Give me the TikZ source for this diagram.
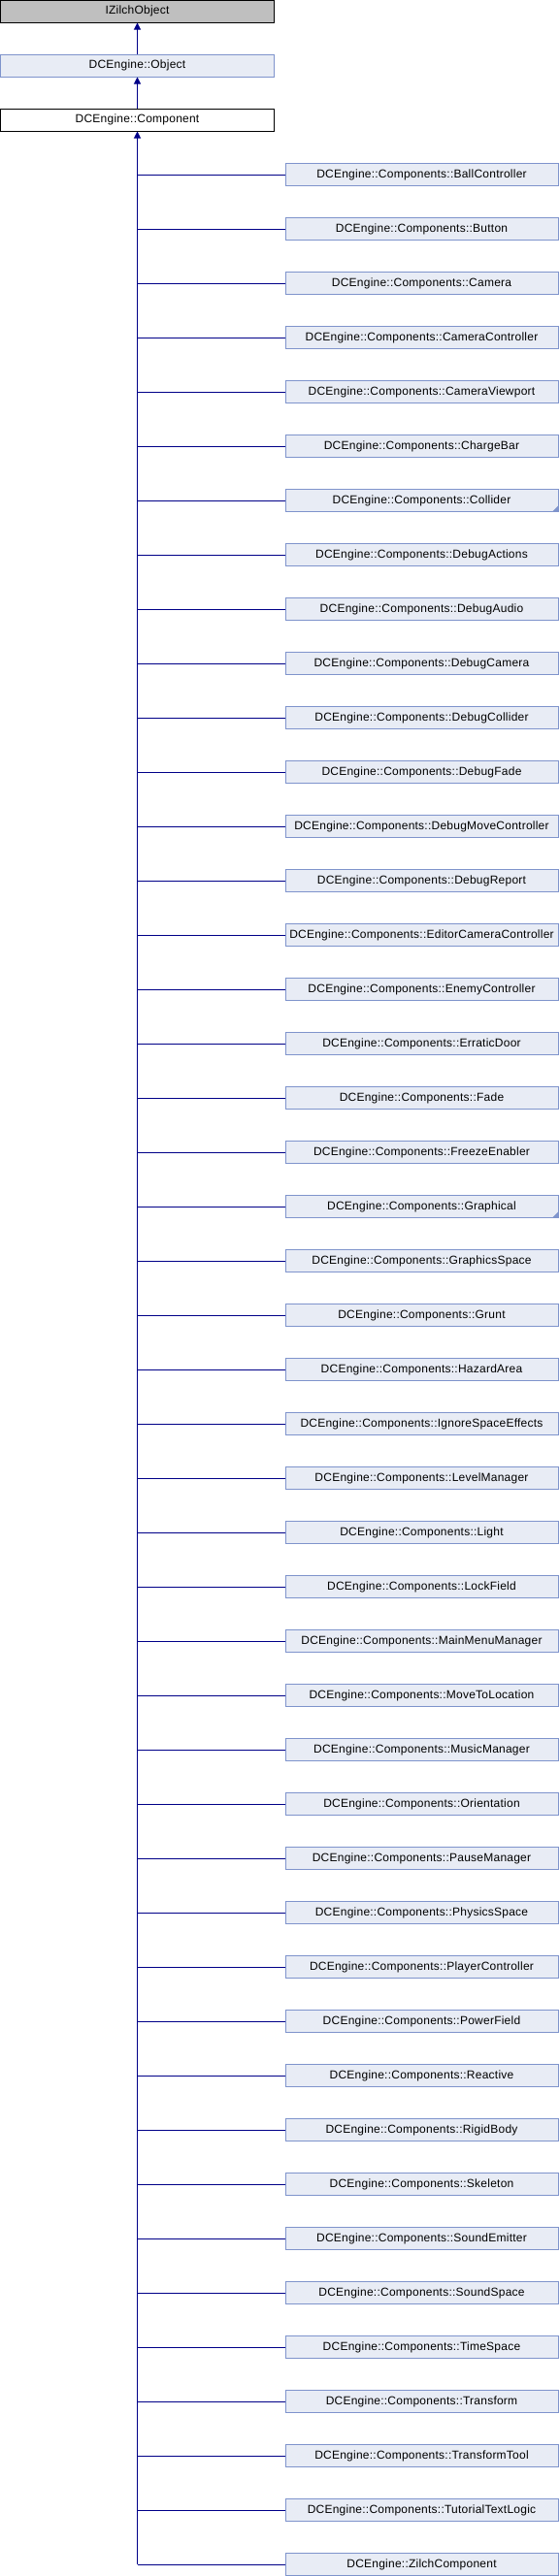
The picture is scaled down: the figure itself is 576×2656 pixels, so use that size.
\documentclass[tikz,border=0pt]{standalone}
\usepackage{fontspec}
\setmainfont{Liberation Sans}
\usetikzlibrary{arrows.meta}
\definecolor{edgecol}{HTML}{000088}
\definecolor{boxfill}{HTML}{E8ECF5}
\definecolor{boxline}{HTML}{7F94CC}
\definecolor{greyfill}{HTML}{BFBFBF}
\tikzset{
  cls/.style={rectangle, inner sep=0pt, minimum height=23pt, line width=1pt,
    font=\fontsize{12}{14}\selectfont\addfontfeature{LetterSpace=2}},
  topbox/.style={cls, minimum width=282pt},
  childbox/.style={cls, minimum width=281pt, draw=boxline, fill=boxfill},
  edge/.style={draw=edgecol, line width=1pt},
  arr/.style={edge, -{Triangle[width=7pt,length=7pt]}},
}
\begin{document}
\begin{tikzpicture}[x=1pt,y=-1pt]
\useasboundingbox (0,0) rectangle (576,2656);
\node[topbox, draw=black, fill=greyfill] (izo) at (141.5,11.5) {IZilchObject};
\node[topbox, draw=boxline, fill=boxfill] (obj) at (141.5,67.5) {DCEngine::Object};
\node[topbox, draw=black, fill=white] (comp) at (141.5,123.5) {DCEngine::Component};
\draw[arr] (obj.north) -- (izo.south);
\draw[arr] (comp.north) -- (obj.south);
\foreach \t [count=\i from 0] in {
DCEngine::Components::BallController,
DCEngine::Components::Button,
DCEngine::Components::Camera,
DCEngine::Components::CameraController,
DCEngine::Components::CameraViewport,
DCEngine::Components::ChargeBar,
DCEngine::Components::Collider,
DCEngine::Components::DebugActions,
DCEngine::Components::DebugAudio,
DCEngine::Components::DebugCamera,
DCEngine::Components::DebugCollider,
DCEngine::Components::DebugFade,
DCEngine::Components::DebugMoveController,
DCEngine::Components::DebugReport,
DCEngine::Components::EditorCameraController,
DCEngine::Components::EnemyController,
DCEngine::Components::ErraticDoor,
DCEngine::Components::Fade,
DCEngine::Components::FreezeEnabler,
DCEngine::Components::Graphical,
DCEngine::Components::GraphicsSpace,
DCEngine::Components::Grunt,
DCEngine::Components::HazardArea,
DCEngine::Components::IgnoreSpaceEffects,
DCEngine::Components::LevelManager,
DCEngine::Components::Light,
DCEngine::Components::LockField,
DCEngine::Components::MainMenuManager,
DCEngine::Components::MoveToLocation,
DCEngine::Components::MusicManager,
DCEngine::Components::Orientation,
DCEngine::Components::PauseManager,
DCEngine::Components::PhysicsSpace,
DCEngine::Components::PlayerController,
DCEngine::Components::PowerField,
DCEngine::Components::Reactive,
DCEngine::Components::RigidBody,
DCEngine::Components::Skeleton,
DCEngine::Components::SoundEmitter,
DCEngine::Components::SoundSpace,
DCEngine::Components::TimeSpace,
DCEngine::Components::Transform,
DCEngine::Components::TransformTool,
DCEngine::Components::TutorialTextLogic,
DCEngine::ZilchComponent}{
  \node[childbox] (c\i) at (434.5,{180+56*\i}) {\t};
  \draw[edge] (c\i.west) -- (c\i.west -| comp.south);
}
\foreach \i in {6,19}{
  \fill[boxline] ([xshift=-0.5pt,yshift=0.5pt]c\i.south east) -- ++(-6,0) -- ++(6,-6) -- cycle;
}
\coordinate (trunkend) at (c44.west -| comp.south);
\draw[arr] (trunkend) -- (comp.south);
\end{tikzpicture}
\end{document}
